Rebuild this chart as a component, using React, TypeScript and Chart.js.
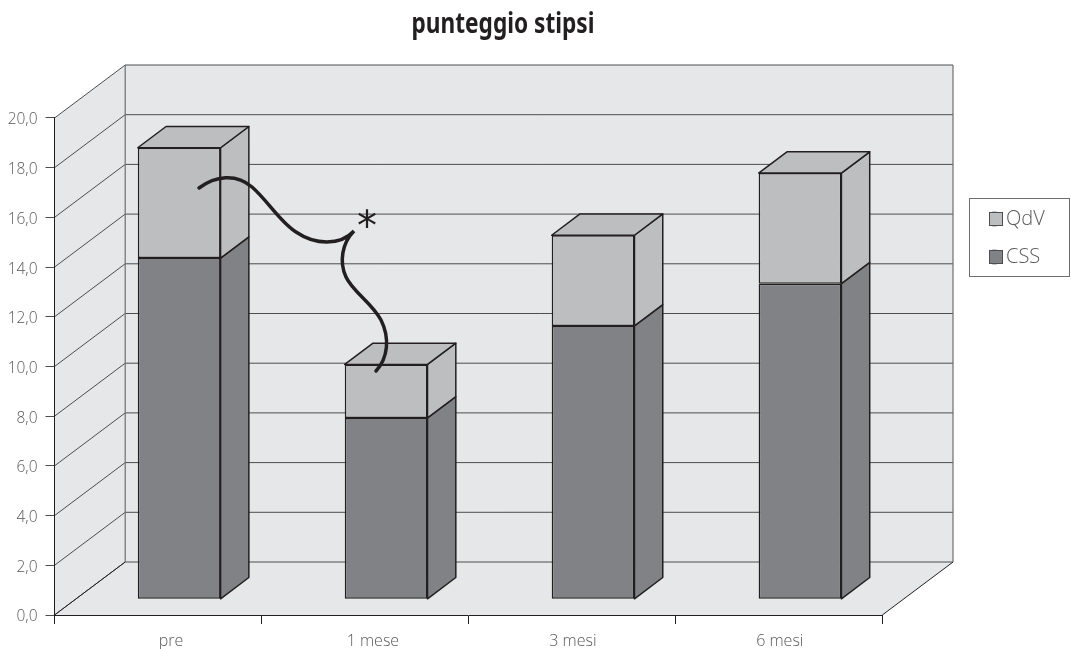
import React, { useEffect, useRef } from "react";
import { Chart, registerables } from "chart.js";

Chart.register(...registerables);

const categories = ["pre", "1 mese", "3 mesi", "6 mesi"];
const cssValues = [13.73, 7.3, 11.0, 12.7];
const qdvValues = [4.44, 2.15, 3.65, 4.45];
const yTickStep = 2;
const yMax = 20;

const TITLE = "punteggio stipsi";
const INK = "#231f20";
const WALL = "#e6e7e8";
const GRID = "#4d4d4f";
const QDV = "#bcbec0";
const CSS = "#808285";
const TEXT = "#58595b";
const FONT = "'Open Sans', sans-serif";

// oblique projection offsets of the fake 3D box
const WALL_DX = 70.7;
const WALL_DY = 53;
const BAR_SHIFT_X = 21.2;
const BAR_SHIFT_Y = 15.7;
const BAR_DX = 28.3;
const BAR_DY = 21.3;
// the reference's category labels sit unevenly right of their slots
const X_LABEL_NUDGE = [13, 8, 1, 1];
const Y_LABEL_NUDGE = 2;

// shifts the labels a scale lays out, just before they are painted
function nudgeLabels(scale: any, shift: (i: number) => [number, number]) {
  const original = scale._computeLabelItems;
  scale._computeLabelItems = function (area: any) {
    const items = original.call(this, area);
    items.forEach((item: any, i: number) => {
      const [dx, dy] = shift(i);
      item.options.translation[0] += dx;
      item.options.translation[1] += dy;
    });
    return items;
  };
}

const box3d = {
  id: "box3d",
  beforeDraw(chart: any) {
    const { ctx, chartArea: a, scales } = chart;
    const y = scales.y;
    ctx.save();
    ctx.fillStyle = WALL;
    // back wall
    ctx.fillRect(a.left + WALL_DX, a.top - WALL_DY, a.right - a.left, a.bottom - a.top);
    // left wall
    ctx.beginPath();
    ctx.moveTo(a.left, a.top);
    ctx.lineTo(a.left + WALL_DX, a.top - WALL_DY);
    ctx.lineTo(a.left + WALL_DX, a.bottom - WALL_DY);
    ctx.lineTo(a.left, a.bottom);
    ctx.closePath();
    ctx.fill();
    // floor
    ctx.beginPath();
    ctx.moveTo(a.left, a.bottom);
    ctx.lineTo(a.left + WALL_DX, a.bottom - WALL_DY);
    ctx.lineTo(a.right + WALL_DX, a.bottom - WALL_DY);
    ctx.lineTo(a.right, a.bottom);
    ctx.closePath();
    ctx.fill();
    // grid lines wrapping around the walls
    ctx.strokeStyle = GRID;
    ctx.lineWidth = 1;
    for (let v = 0; v <= yMax; v += yTickStep) {
      const py = y.getPixelForValue(v);
      ctx.beginPath();
      ctx.moveTo(a.left, py);
      ctx.lineTo(a.left + WALL_DX, py - WALL_DY);
      ctx.lineTo(a.right + WALL_DX, py - WALL_DY);
      ctx.stroke();
    }
    // wall edges
    ctx.strokeStyle = "#6d6e71";
    ctx.lineWidth = 1.2;
    ctx.beginPath();
    ctx.moveTo(a.left + WALL_DX, a.top - WALL_DY);
    ctx.lineTo(a.left + WALL_DX, a.bottom - WALL_DY);
    ctx.moveTo(a.right + WALL_DX, a.top - WALL_DY);
    ctx.lineTo(a.right + WALL_DX, a.bottom - WALL_DY);
    ctx.stroke();
    ctx.strokeStyle = INK;
    ctx.lineWidth = 1;
    ctx.beginPath();
    ctx.moveTo(a.left, a.bottom);
    ctx.lineTo(a.left + WALL_DX, a.bottom - WALL_DY);
    ctx.moveTo(a.right, a.bottom);
    ctx.lineTo(a.right + WALL_DX, a.bottom - WALL_DY);
    ctx.stroke();
    // legend frame
    ctx.strokeStyle = "#6d6e71";
    ctx.lineWidth = 1;
    ctx.strokeRect(969.5, 198.5, 100, 78);
    ctx.restore();
  },
  afterLayout(chart: any) {
    if (!chart.$nudged) {
      chart.$nudged = true;
      nudgeLabels(chart.scales.x, (i) => [X_LABEL_NUDGE[i] || 0, 0]);
      nudgeLabels(chart.scales.y, () => [0, Y_LABEL_NUDGE]);
    }
    const l = chart.legend;
    if (l) {
      l.left = 975;
      l.right = 1071;
      l.top = 191;
      l.bottom = 320;
    }
    const t = chart.titleBlock;
    if (t) {
      t.left = 411.5;
      t.right = 594.5;
    }
  },
  beforeDatasetsDraw(chart: any) {
    chart.ctx.save();
    chart.ctx.translate(BAR_SHIFT_X, -BAR_SHIFT_Y);
  },
  afterDatasetsDraw(chart: any) {
    const { ctx, data } = chart;
    const topIdx = data.datasets.length - 1;
    ctx.lineJoin = "round";
    data.datasets.forEach((ds: any, di: number) => {
      chart.getDatasetMeta(di).data.forEach((bar: any) => {
        const r = bar.x + bar.width / 2;
        const l = bar.x - bar.width / 2;
        ctx.fillStyle = ds.backgroundColor;
        ctx.strokeStyle = INK;
        ctx.lineWidth = 1.5;
        ctx.beginPath();
        ctx.moveTo(r, bar.y);
        ctx.lineTo(r + BAR_DX, bar.y - BAR_DY);
        ctx.lineTo(r + BAR_DX, bar.base - BAR_DY);
        ctx.lineTo(r, bar.base);
        ctx.closePath();
        ctx.fill();
        ctx.stroke();
        if (di === topIdx) {
          ctx.beginPath();
          ctx.moveTo(l, bar.y);
          ctx.lineTo(l + BAR_DX, bar.y - BAR_DY);
          ctx.lineTo(r + BAR_DX, bar.y - BAR_DY);
          ctx.lineTo(r, bar.y);
          ctx.closePath();
          ctx.fill();
          ctx.stroke();
        }
      });
    });
    ctx.restore();
  },
  afterDraw(chart: any) {
    const { ctx } = chart;
    ctx.save();
    // wider legend swatches over the narrow ones the legend reserves room for
    const legend = chart.legend;
    legend.legendItems.forEach((item: any, i: number) => {
      const hit = legend.legendHitBoxes[i];
      const cy = hit.top + hit.height / 2;
      ctx.fillStyle = item.fillStyle;
      ctx.strokeStyle = "#4d4d4f";
      ctx.lineWidth = 1;
      ctx.fillRect(989.5, Math.round(cy) - 6.5, 13, 13);
      ctx.strokeRect(989.5, Math.round(cy) - 6.5, 13, 13);
    });
    // significance annotation
    ctx.strokeStyle = INK;
    ctx.lineWidth = 3.5;
    ctx.lineCap = "round";
    ctx.beginPath();
    ctx.moveTo(199, 188);
    ctx.bezierCurveTo(215, 176, 236, 173, 252, 187);
    ctx.bezierCurveTo(268, 201, 280, 222, 296, 232);
    ctx.bezierCurveTo(315, 245, 340, 246, 354, 231);
    ctx.bezierCurveTo(342, 243, 339, 262, 346, 277);
    ctx.bezierCurveTo(353, 292, 372, 303, 381, 320);
    ctx.bezierCurveTo(390, 338, 388, 358, 376, 371);
    ctx.stroke();
    ctx.fillStyle = INK;
    ctx.font = "40px 'DejaVu Sans'";
    ctx.textAlign = "center";
    ctx.textBaseline = "alphabetic";
    ctx.fillText("*", 367, 240);
    ctx.restore();
  },
};

export default function App() {
  const ref = useRef<HTMLCanvasElement>(null);
  useEffect(() => {
    const chart = new Chart(ref.current!, {
      type: "bar",
      data: {
        labels: categories,
        datasets: [
          { label: "CSS", data: cssValues, backgroundColor: CSS, borderColor: INK, borderWidth: 1.5, borderSkipped: false, clip: false },
          { label: "QdV", data: qdvValues, backgroundColor: QDV, borderColor: INK, borderWidth: 1.5, borderSkipped: false, clip: false },
        ] as any,
      },
      options: {
        responsive: false,
        animation: false,
        layout: { padding: { left: 0, right: 188.7, top: 0, bottom: 0 } },
        datasets: { bar: { barPercentage: 0.4, categoryPercentage: 1 } },
        plugins: {
          tooltip: { enabled: false },
          title: {
            display: true,
            text: TITLE,
            color: INK,
            align: "center",
            font: { family: "'Noto Sans'", size: 29, weight: "bold", lineHeight: 1.2 },
            padding: { top: 7.6, bottom: 75.6 },
            fullSize: true,
          },
          legend: {
            position: "chartArea",
            align: "start",
            reverse: true,
            labels: {
              boxWidth: 3,
              boxHeight: 13,
              padding: 18,
              color: TEXT,
              font: { family: FONT, size: 20, weight: "300" },
            },
          },
        },
        scales: {
          x: {
            stacked: true,
            grid: { drawOnChartArea: false, drawTicks: true, tickLength: 9, color: INK, tickColor: INK },
            border: { color: INK, width: 1 },
            ticks: { color: TEXT, font: { family: FONT, size: 16, weight: "300" }, padding: 8 },
            afterFit: (s: any) => { s.height = 34; },
          },
          y: {
            stacked: true,
            min: 0,
            max: yMax,
            grid: { drawOnChartArea: false, drawTicks: true, tickLength: 9, color: GRID, tickColor: GRID },
            border: { color: INK, width: 1 },
            ticks: {
              stepSize: yTickStep,
              color: TEXT,
              font: { family: FONT, size: 15.5, weight: "300" },
              padding: 8,
              callback: (v: any) => Number(v).toFixed(1).replace(".", ","),
            },
            afterFit: (s: any) => { s.width = 54.5; },
          },
        },
      },
      plugins: [box3d],
    } as any);
    return () => chart.destroy();
  }, []);
  return (
    <div style={{ position: "fixed", left: 0, top: 0 }}>
      <canvas ref={ref} width={1071} height={649} style={{ display: "block" }} />
    </div>
  );
}
